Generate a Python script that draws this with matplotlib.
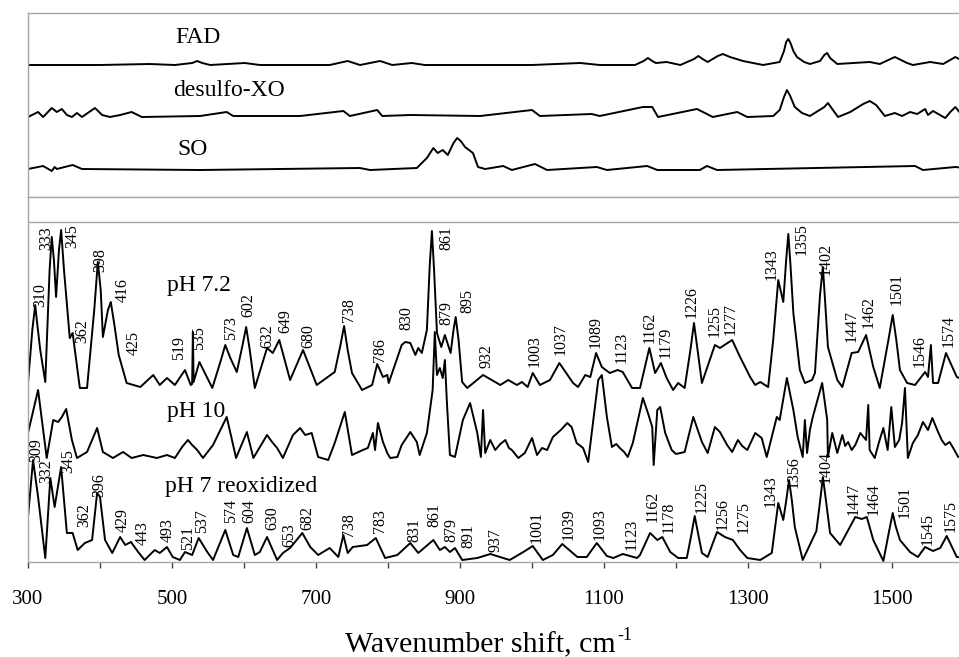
import matplotlib
matplotlib.use('Agg')
from matplotlib import pyplot as plt

# ---------------- top panel: reference spectra (intensity above own baseline)
fad_wn = [300, 400, 469, 504, 528, 535, 542, 553, 601, 622, 719, 744, 761, 789, 806, 833, 851,
          1000, 1067, 1094, 1143, 1155, 1161, 1167, 1172, 1187, 1206, 1225, 1231, 1237, 1244,
          1258, 1265, 1275, 1293, 1321, 1344, 1350, 1353, 1356, 1359, 1363, 1368, 1378, 1386,
          1400, 1406, 1410, 1414, 1424, 1469, 1483, 1504, 1521, 1529, 1553, 1571, 1588, 1601]
fad_int = [0, 0, 1, 0, 2, 4, 2, 0, 2, 0, 0, 4, 0, 4, 0, 2, 0,
           0, 2, 0, 0, 4, 7, 4, 2, 3, 0, 6, 9, 6, 3,
           9, 11, 8, 4, 0, 3, 14, 23, 26, 22, 14, 8, 3, 1,
           4, 10, 12, 7, 1, 3, 1, 8, 2, 0, 3, 1, 8, 3]

dxo_wn = [300, 314, 321, 333, 340, 347, 354, 361, 368, 375, 393, 403, 414, 428, 444, 458,
          539, 576, 585, 678, 738, 747, 785, 792, 831, 928, 1000, 1011, 1083, 1094,
          1154, 1167, 1175, 1229, 1243, 1251, 1285, 1299, 1335, 1344, 1350, 1354, 1358,
          1365, 1375, 1386, 1406, 1411, 1416, 1425, 1442, 1460, 1469, 1478, 1490, 1504,
          1514, 1525, 1535, 1546, 1550, 1557, 1569, 1574, 1581, 1588, 1597]
dxo_int = [0, 5, 0, 9, 5, 8, 2, 0, 4, 0, 9, 2, 0, 2, 5, 0,
           1, 5, 1, 1, 6, 1, 7, 1, 2, 1, 7, 1, 3, 1,
           10, 10, 0, 8, 3, 0, 5, 0, 1, 7, 20, 27, 22,
           10, 4, 1, 10, 14, 9, 0, 5, 13, 16, 12, 1, 4,
           1, 5, 3, 8, 2, 6, 1, -1, 5, 10, 2]

so_wn = [300, 321, 333, 337, 340, 362, 375, 539, 761, 775, 840, 854, 863, 869, 876, 883,
         891, 896, 901, 907, 918, 925, 935, 960, 972, 1004, 1021, 1090, 1104, 1160, 1174,
         1233, 1243, 1257, 1532, 1543, 1588, 1601]
so_int = [1, 4, -1, 3, 1, 5, 1, 0, 2, 0, 2, 12, 22, 17, 20, 15,
          27, 32, 29, 23, 17, 3, 1, 4, 0, 6, 0, 3, 0, 4, 0,
          0, 4, 0, 4, 0, 3, 2]

# ---------------- bottom panel: sample spectra
ph72_wn = [300, 306, 310, 313, 317, 324, 330, 333, 336, 339, 343, 346, 350, 358, 362, 372,
           382, 392, 397, 401, 404, 411, 415, 420, 426, 437,
           456, 474, 483, 493, 504, 518, 526, 528, 529, 530, 538, 556, 568, 574, 581, 590,
           598, 603, 608, 615, 632, 640, 649, 664, 682, 701, 726, 734, 739, 744, 750, 764,
           778, 785, 793, 799, 801, 819, 824, 831, 838, 842, 847, 854, 858, 861, 864, 868,
           874, 879, 887, 891, 894, 898, 903, 910, 932, 956,
           967, 979, 986, 994, 1001, 1011, 1025, 1038, 1057, 1064, 1074, 1081, 1089, 1097,
           1108, 1119, 1126, 1139, 1150, 1163, 1171, 1179, 1187, 1196, 1203, 1212, 1220,
           1225, 1230, 1236, 1254, 1261, 1278, 1289, 1303, 1310, 1317, 1328, 1335, 1342,
           1349, 1353, 1356, 1359, 1363, 1372, 1379, 1389, 1393, 1400, 1404, 1407, 1411,
           1424, 1431, 1444, 1453, 1464, 1474, 1483, 1495, 1501, 1506, 1511, 1521, 1532,
           1546, 1550, 1554, 1557, 1564, 1575, 1590, 1600]
ph72_int = [7, 60, 85, 65, 40, 8, 120, 153, 130, 93, 140, 160, 120, 52, 57, 2,
            2, 80, 128, 100, 53, 80, 88, 65, 35, 7,
            3, 15, 5, 12, 5, 20, 5, 6, 58, 8, 28, 2, 30, 45, 32, 18,
            45, 63, 40, 2, 42, 37, 50, 10, 40, 5, 18, 45, 64, 40, 17, 0,
            5, 26, 13, 15, 7, 45, 48, 47, 35, 42, 37, 60, 125, 159, 120, 57,
            43, 55, 37, 60, 73, 50, 8, 2, 15, 5,
            10, 5, 8, 3, 17, 5, 10, 27, 7, 3, 15, 13, 37, 23,
            17, 20, 18, 2, 2, 42, 17, 27, 12, 0, 7, 2, 40,
            67, 40, 7, 45, 42, 50, 33, 13, 5, 8, 3, 50, 110,
            88, 130, 156, 125, 77, 20, 7, 10, 17, 95, 123, 90, 43,
            10, 3, 37, 38, 55, 23, 2, 50, 75, 50, 20, 7, 5,
            18, 13, 45, 7, 7, 37, 13, 10]

ph10_wn = [300, 314, 326, 335, 342, 347, 353, 361, 368, 382, 396, 404, 418, 432, 444, 460,
           479, 493, 504, 514, 522, 528, 535, 543, 557, 576, 589, 604, 613, 632, 639, 646,
           654, 668, 678, 685, 694, 703, 717, 726, 740, 750, 765, 772, 779, 782, 786, 793,
           799, 803, 813, 819, 831, 840, 844, 854, 862, 865, 868, 872, 876, 879, 882, 886,
           893, 904, 914, 924, 929, 932, 935, 942, 949, 956, 963, 968, 972, 981, 990, 1000,
           1007, 1014, 1021, 1029, 1040, 1049, 1055, 1062, 1071, 1078, 1092, 1097, 1104,
           1111, 1117, 1122, 1128, 1133, 1140,
           1154, 1161, 1167, 1169, 1174, 1178, 1185, 1194, 1200, 1206, 1212, 1224, 1236, 1244,
           1254, 1261, 1271, 1278, 1286, 1292, 1299, 1310, 1319, 1326, 1340, 1344, 1354, 1363,
           1369, 1376, 1379, 1382, 1386, 1390, 1403, 1410, 1411, 1417, 1424, 1431, 1435, 1439,
           1444, 1449, 1456, 1464, 1467, 1469, 1476, 1482, 1488, 1494, 1499, 1504, 1510, 1514,
           1518, 1522, 1529, 1536, 1543, 1550, 1556, 1564, 1569, 1574, 1580, 1585, 1592, 1600]
ph10_int = [27, 70, 2, 40, 38, 43, 51, 20, 2, 8, 32, 8, 2, 8, 2, 5,
            2, 5, 2, 13, 20, 15, 10, 2, 15, 43, 2, 28, 2, 25, 18, 12,
            2, 25, 32, 25, 27, 3, 0, 17, 48, 5, 10, 12, 27, 10, 37, 18,
            7, 2, 3, 15, 28, 18, 5, 27, 70, 128, 85, 92, 82, 100, 55, 5,
            3, 40, 57, 27, 3, 50, 7, 20, 10, 16, 20, 12, 10, 2, 7, 22,
            5, 12, 10, 23, 30, 37, 33, 17, 12, -2, 80, 85, 43,
            13, 16, 12, 8, 3, 17,
            62, 47, 33, -5, 50, 53, 27, 10, 6, 7, 8, 43, 18, 7,
            33, 28, 15, 8, 20, 14, 10, 27, 22, 3, 43, 40, 82, 50,
            23, 3, 40, 7, 30, 43, 77, 40, 3, 27, 7, 25, 14, 18,
            10, 15, 27, 20, 55, 10, 2, 18, 32, 10, 53, 13, 20, 37,
            72, 2, 17, 25, 38, 30, 42, 28, 20, 15, 18, 12, 3, 3]

reox_wn = [300, 307, 314, 324, 331, 337, 346, 354, 362, 369, 379, 389, 396, 400, 407, 417,
           428, 435, 443, 453, 462, 476, 483, 493, 501, 511, 518, 528, 537, 549, 557, 574,
           585, 592, 604, 615, 622, 632, 646, 654, 664, 681, 692, 703, 719, 731, 738, 744,
           751, 771, 783, 796, 813, 831, 842, 863, 872, 879, 886, 893, 903, 924, 942, 969,
           988, 1001, 1015, 1029, 1042, 1063, 1076, 1090, 1104, 1113, 1126, 1146, 1150,
           1164, 1174, 1181, 1192, 1203, 1215, 1221, 1226, 1230, 1236, 1244, 1257, 1268,
           1279, 1289, 1299, 1317, 1333, 1342, 1349, 1353, 1357, 1361, 1365, 1376, 1395,
           1401, 1404, 1408, 1414, 1428, 1449, 1458, 1465, 1474, 1488, 1496, 1501, 1505,
           1511, 1525, 1536, 1546, 1557, 1567, 1576, 1590, 1600]
reox_int = [44, 101, 64, 3, 83, 54, 94, 28, 28, 11, 18, 21, 68, 64, 21, 8,
            24, 16, 19, 9, 1, 11, 8, 14, 4, 1, 9, 6, 23, 9, 1, 31,
            6, 4, 33, 6, 9, 24, 1, 8, 13, 28, 14, 6, 13, 4, 26, 8,
            14, 16, 23, 3, 6, 18, 8, 21, 11, 14, 9, 13, 1, 3, 7, 1,
            9, 15, 1, 6, 17, 4, 4, 18, 5, 3, 7, 3, 6,
            28, 21, 24, 9, 3, 3, 25, 45, 30, 8, 4, 29, 24,
            21, 11, 3, 1, 8, 58, 41, 60, 81, 60, 34, 1, 30,
            65, 84, 62, 28, 16, 44, 42, 44, 21, 0, 30, 48, 35,
            21, 9, 4, 14, 10, 13, 25, 4, 3]

# peak labels: value, label x (cm-1), label bottom (bottom-panel units)
ph72_peaks = [310, 333, 345, 362, 398, 416, 425, 519, 535, 573, 602, 632, 649, 680,
              738, 786, 830, 861, 879, 895, 932, 1003, 1037, 1089, 1123, 1162, 1179,
              1226, 1255, 1277, 1343, 1355, 1402, 1447, 1462, 1501, 1546, 1574]
ph72_lab_x = [317, 326, 361, 375, 400, 432, 447, 510, 537, 582, 606, 632, 658, 689,
              746, 789, 826, 881, 881, 910, 937, 1003, 1040, 1089, 1124, 1163, 1186,
              1222, 1253, 1276, 1333, 1374, 1408, 1444, 1468, 1507, 1538, 1579]
ph72_lab_y = [255, 312, 314, 219, 290, 260, 207, 202, 212, 222, 245, 214, 229, 214,
              240, 200, 232, 312, 237, 249, 194, 195, 207, 214, 199, 219, 204,
              244, 225, 227, 282, 307, 287, 220, 234, 257, 195, 215]

reox_peaks = [309, 332, 345, 362, 396, 429, 443, 493, 521, 537, 574, 604, 630, 653, 682,
              738, 783, 831, 861, 879, 891, 937, 1001, 1039, 1093, 1123, 1162, 1178,
              1225, 1256, 1275, 1343, 1356, 1404, 1447, 1464, 1501, 1545, 1575]
reox_lab_x = [311, 326, 356, 378, 399, 431, 460, 494, 522, 542, 582, 607, 639, 663, 688,
              746, 789, 836, 864, 888, 911, 949, 1006, 1051, 1094, 1138, 1167, 1190,
              1236, 1265, 1294, 1332, 1363, 1408, 1447, 1475, 1517, 1550, 1582]
reox_lab_y = [100, 79, 89, 35, 65, 30, 17, 20, 12, 29, 39, 39, 32, 15, 32,
              25, 29, 20, 35, 20, 14, 10, 19, 22, 22, 12, 40, 29,
              49, 32, 29, 55, 74, 79, 47, 47, 44, 17, 30]

top_names = ['FAD', 'desulfo-XO', 'SO']
bottom_names = ['pH 7.2', 'pH 10', 'pH 7 reoxidized']
tick_vals = [300, 500, 700, 900, 1100, 1300, 1500]

# ---------------- layout
top_offsets = [132, 80, 27]
top_name_pos = [(505, 154), (501, 101), (507, 42)]
bottom_offsets = [172, 102, 1]
bottom_name_pos = [(493, 271), (493, 145), (490, 70)]

plt.rcParams['font.family'] = ['Liberation Serif', 'DejaVu Serif']

W, H = 959, 657
fig = plt.figure(figsize=(W / 100, H / 100), dpi=100)
grey = '#a6a6a6'
lw = 1.4

ax_top = fig.add_axes([28 / W, 1 - 197 / H, 936 / W, 184 / H])
ax = fig.add_axes([28 / W, 1 - 562 / H, 936 / W, 365 / H])

top_series = [(fad_wn, fad_int), (dxo_wn, dxo_int), (so_wn, so_int)]
for (wn, y), off, name, pos in zip(top_series, top_offsets, top_names, top_name_pos):
    ax_top.plot(wn, [v + off for v in y], color='black', lw=lw, solid_joinstyle='round')
    ax_top.text(pos[0], pos[1], name, fontsize=17, ha='left', va='baseline')

ax_top.set_xlim(300, 1600)
ax_top.set_ylim(0, 184)
ax_top.set_xticks([])
ax_top.set_yticks([])
for s in ax_top.spines.values():
    s.set_color(grey)
    s.set_linewidth(1)

bottom_series = [(ph72_wn, ph72_int), (ph10_wn, ph10_int), (reox_wn, reox_int)]
for (wn, y), off, name, pos in zip(bottom_series, bottom_offsets, bottom_names, bottom_name_pos):
    ax.plot(wn, [v + off for v in y], color='black', lw=lw, solid_joinstyle='round')
    ax.text(pos[0], pos[1], name, fontsize=17, ha='left', va='baseline')

for peaks, lx, ly in [(ph72_peaks, ph72_lab_x, ph72_lab_y), (reox_peaks, reox_lab_x, reox_lab_y)]:
    for p, x, y in zip(peaks, lx, ly):
        ax.text(x, y, str(p), rotation=90, fontsize=11.5, ha='center', va='bottom')

ax.axhline(340, color=grey, lw=1)
ax.set_xlim(300, 1600)
ax.set_ylim(0, 365)
ax.set_yticks([])
ax.set_xticks(list(range(300, 1601, 100)))
ax.set_xticklabels([str(t) if t in tick_vals else '' for t in range(300, 1601, 100)])
ax.tick_params(axis='x', direction='out', length=4, width=1, color='#404040',
               labelsize=15, pad=16)
for s in ax.spines.values():
    s.set_color(grey)
    s.set_linewidth(1)

# axis title with a plain "-1" superscript
xl = fig.text(345 / W, 1 - 652 / H, 'Wavenumber shift, cm', fontsize=21.5,
              ha='left', va='baseline')
bb = xl.get_window_extent(renderer=fig.canvas.get_renderer())
fig.text((bb.x1 + 2) / W, 1 - 640 / H, '-1', fontsize=13, ha='left', va='baseline')

fig.savefig('out.png', dpi=100)
